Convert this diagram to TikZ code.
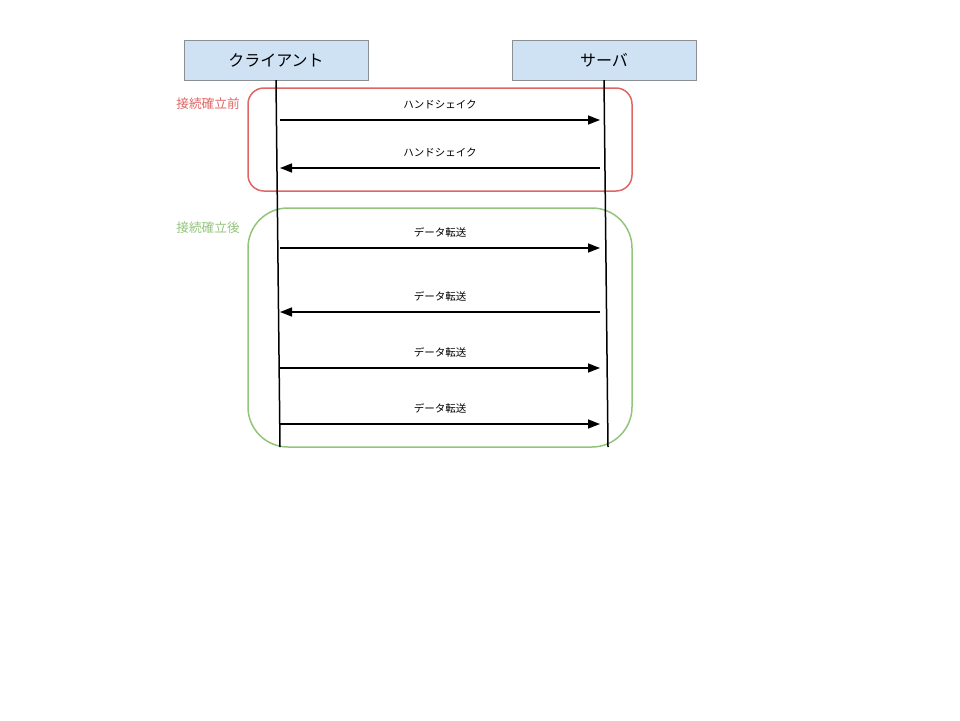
\documentclass[tikz,border=0pt]{standalone}
\usepackage{fontspec}
\setmainfont{Noto Sans CJK JP}
\usetikzlibrary{arrows.meta}
\definecolor{headfill}{HTML}{CFE2F3}
\definecolor{headdraw}{HTML}{8A8F94}
\definecolor{beforered}{HTML}{E06666}
\definecolor{aftergreen}{HTML}{93C47D}

\begin{document}
\begin{tikzpicture}[x=1pt, y=-1pt]
% Styles
\tikzstyle{actor} = [rectangle, minimum width=184pt, minimum height=40pt, text centered, draw=headdraw, fill=headfill, font=\fontsize{16}{19}\selectfont, inner sep=0pt]
\tikzstyle{lifeline} = [line width=1.5pt]
\tikzstyle{msg} = [line width=1.5pt, -{Triangle[length=12pt, width=9pt]}]
\tikzstyle{msglabel} = [font=\fontsize{10.5}{13}\selectfont, above=7pt]
\tikzstyle{phase} = [line width=1.5pt, rounded corners=#1]
\tikzstyle{phaselabel} = [font=\fontsize{12.7}{15}\selectfont, anchor=east, inner sep=0pt]

\useasboundingbox (0,0) rectangle (960,720);

% Nodes
\node (client) [actor] at (276,60) {クライアント};
\node (server) [actor] at (604,60) {サーバ};

% Lifeline ends
\coordinate (client_end) at (280,447);
\coordinate (server_end) at (608,447);

% Phase boxes
\draw [phase=16pt, beforered] (248,88) rectangle (632,191);
\draw [phase=40pt, aftergreen] (248,208) rectangle (632,447);
\node (before) [phaselabel, text=beforered] at (240,104) {接続確立前};
\node (after) [phaselabel, text=aftergreen] at (240,228) {接続確立後};

\draw [lifeline] (client.south) -- (client_end);
\draw [lifeline] (server.south) -- (server_end);

% Message end points
\foreach \i/\y in {1/120, 2/168, 3/248, 4/312, 5/368, 6/424} {
  \coordinate (c\i) at (280,\y);
  \coordinate (s\i) at (600,\y);
}

% Arrows
\draw [msg] (c1) -- node[msglabel] {ハンドシェイク} (s1);
\draw [msg] (s2) -- node[msglabel] {ハンドシェイク} (c2);
\draw [msg] (c3) -- node[msglabel] {データ転送} (s3);
\draw [msg] (s4) -- node[msglabel] {データ転送} (c4);
\draw [msg] (c5) -- node[msglabel] {データ転送} (s5);
\draw [msg] (c6) -- node[msglabel] {データ転送} (s6);
\end{tikzpicture}
\end{document}
